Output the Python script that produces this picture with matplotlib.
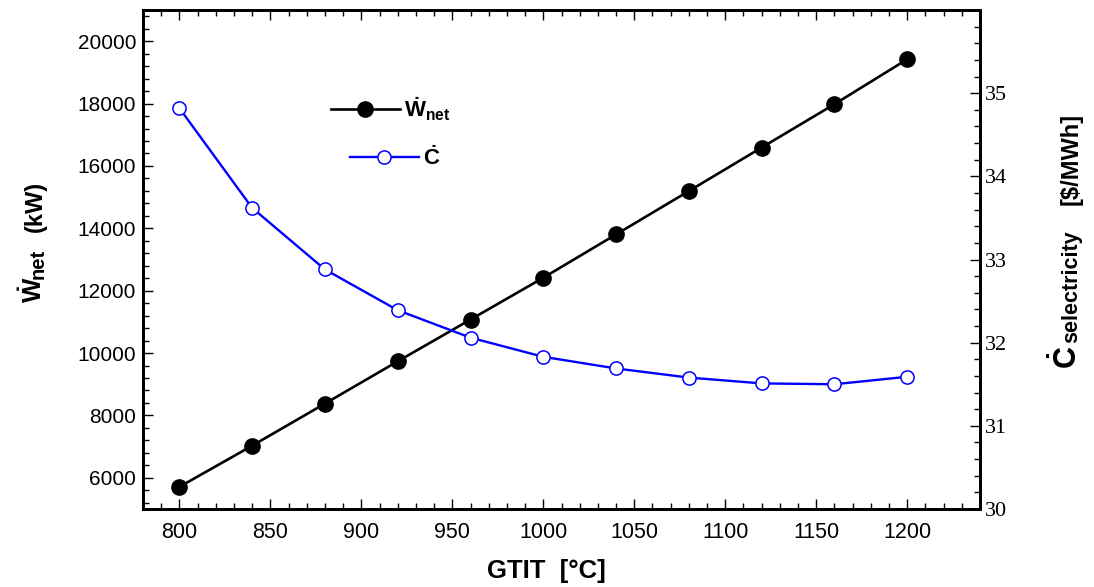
import matplotlib
matplotlib.use("Agg")
import matplotlib.pyplot as plt
from matplotlib.ticker import MultipleLocator

# data
gtit = [800, 840, 880, 920, 960, 1000, 1040, 1080, 1120, 1160, 1200]
w_net = [5710, 7030, 8380, 9735, 11075, 12415, 13805, 15195, 16590, 17980, 19420]
c_elec = [34.82, 33.62, 32.88, 32.39, 32.06, 31.83, 31.69, 31.58, 31.51, 31.50, 31.59]
c_ticks = [30, 31, 32, 33, 34, 35]

plt.rcParams["font.family"] = "Liberation Sans"
plt.rcParams["mathtext.fontset"] = "custom"
plt.rcParams["mathtext.rm"] = "Liberation Sans:bold"
plt.rcParams["mathtext.it"] = "Liberation Sans:bold"
plt.rcParams["mathtext.bf"] = "Liberation Sans:bold"

W, H = 1094, 587
fig = plt.figure(figsize=(W / 100, H / 100), dpi=100)
ax = fig.add_axes([143 / W, 1 - 509 / H, (980 - 143) / W, (509 - 10) / H])
ax2 = ax.twinx()

line_w, = ax.plot(gtit, w_net, color="black", lw=1.9, marker="o", ms=11,
                  mfc="black", mec="black")
line_c, = ax2.plot(gtit, c_elec, color="#0000ff", lw=1.7, marker="o", ms=9.5,
                   mfc="white", mec="#0000ff", mew=1.1)

ax.set_xlim(780, 1240)
ax.set_ylim(5000, 21000)
ax2.set_ylim(30, 36)

ax.xaxis.set_major_locator(MultipleLocator(50))
ax.xaxis.set_minor_locator(MultipleLocator(10))
ax.yaxis.set_major_locator(MultipleLocator(2000))
ax.yaxis.set_minor_locator(MultipleLocator(400))
ax2.set_yticks(c_ticks)
ax2.yaxis.set_minor_locator(MultipleLocator(0.2))

# ticks
ax.tick_params(which="both", direction="in", top=True, right=False, width=1)
ax.tick_params(which="major", length=7)
ax.tick_params(which="minor", length=4)
ax.tick_params(axis="y", labelsize=15, pad=5)
ax.tick_params(axis="x", labelsize=15.5, pad=9)
ax2.tick_params(axis="y", which="both", direction="in", right=True, width=1)
ax2.tick_params(axis="y", which="major", length=7, labelsize=16, pad=3.5,
                labelfontfamily="Liberation Serif")
ax2.tick_params(axis="y", which="minor", length=4)

for a in (ax, ax2):
    for s in a.spines.values():
        s.set_linewidth(2)

# legends (two separate entries, offset like the original)
leg1 = ax2.legend([line_w], [r"$\dot{W}_{net}$"], loc="center left",
                  bbox_to_anchor=(0.2246, 0.8016), frameon=False, fontsize=16,
                  handlelength=3.1, handletextpad=0.2, borderpad=0, borderaxespad=0)
ax2.add_artist(leg1)
ax2.legend([line_c], [r"$\dot{C}$"], loc="center left",
           bbox_to_anchor=(0.2473, 0.7034), frameon=False, fontsize=16,
           handlelength=3.1, handletextpad=0.2, borderpad=0, borderaxespad=0)


def vtext(x, y, s, size):
    # x, y in picture pixels: start of the baseline of rotated text
    fig.text(x / W, 1 - y / H, s, rotation=90, rotation_mode="anchor",
             ha="left", va="baseline", fontsize=size, fontweight="bold")


# left axis label
vtext(42, 303, r"$\dot{W}$", 18.5)
vtext(44, 279, "net", 14.5)
vtext(42, 232, "(kW)", 17)

# right axis label
vtext(1077, 369, r"$\dot{C}$", 22)
vtext(1077, 343, "selectricity", 15.5)
vtext(1078, 205, "[$/MWh]", 17)

# x label
fig.text(546 / W, 1 - 578 / H, "GTIT  [°C]", ha="center", va="baseline",
         fontsize=18.5, fontweight="bold")

fig.savefig("out.png", dpi=100)
